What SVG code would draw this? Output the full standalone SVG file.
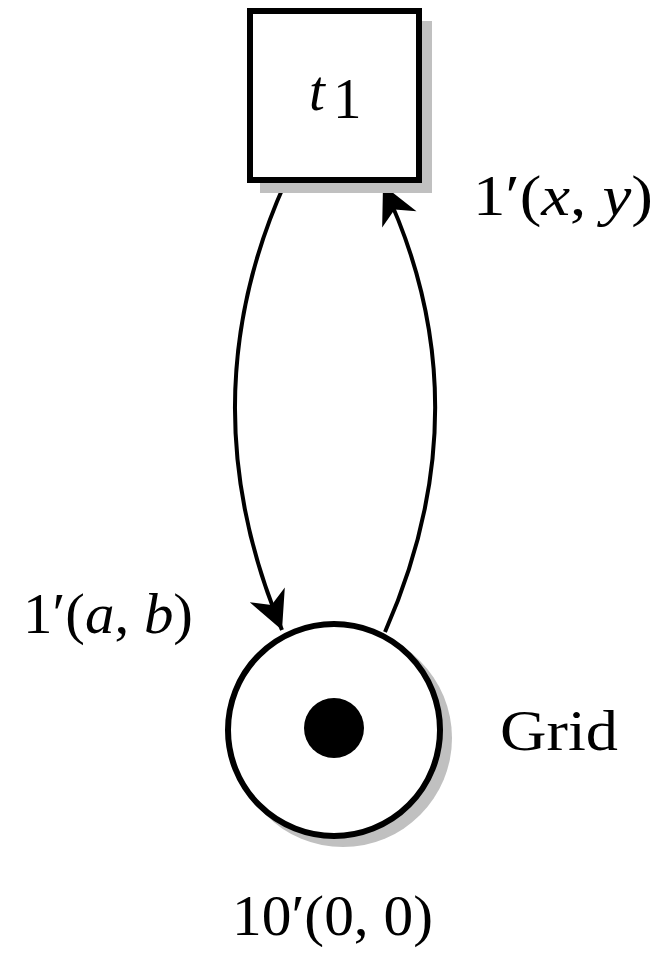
<svg xmlns="http://www.w3.org/2000/svg" width="661" height="955" viewBox="0 0 661 955">
<style>
.shadow{fill:#c0c0c0;stroke:none}
.node{fill:#fff;stroke:#000;stroke-width:6}
.arc{fill:none;stroke:#000;stroke-width:4}
.lbl{font-family:"Liberation Serif","DejaVu Serif",serif;font-size:57px;fill:#000}
.it{font-style:italic}
</style>
<defs>
<marker id="stealth" markerUnits="userSpaceOnUse" markerWidth="50" markerHeight="50" viewBox="-40 -25 50 50" refX="0" refY="0" orient="auto">
<path d="M0,0 L-38,-19 L-27,0 L-38,19 Z" fill="#000"/>
</marker>
</defs>
<rect width="661" height="955" fill="#fff"/>
<g id="connectors">
<path class="arc" d="M285,183 C219,330 219,480 282,630" marker-end="url(#stealth)"/>
<path class="arc" d="M385,632 C452,480 452,330 383,185" marker-end="url(#stealth)"/>
</g>
<g id="t1">
<rect class="shadow" x="260" y="21" width="172" height="172"/>
<rect class="node" x="250" y="11" width="169" height="169"/>
<text class="lbl it" x="309" y="110" font-size="56">t</text>
<text class="lbl" x="333" y="118" font-size="41">1</text>
</g>
<g id="grid">
<circle class="shadow" cx="343" cy="738" r="109"/>
<circle class="node" cx="334" cy="730" r="106"/>
<circle cx="334" cy="728" r="30" fill="#000"/>
</g>
<g id="labels">
<text class="lbl" x="473" y="215" textLength="180" lengthAdjust="spacingAndGlyphs">1′(<tspan class="it">x</tspan>, <tspan class="it">y</tspan>)</text>
<text class="lbl" x="23" y="633" textLength="170" lengthAdjust="spacingAndGlyphs">1′(<tspan class="it">a</tspan>, <tspan class="it">b</tspan>)</text>
<text class="lbl" x="500" y="750" textLength="118" lengthAdjust="spacingAndGlyphs">Grid</text>
<text class="lbl" x="232" y="935" textLength="201" lengthAdjust="spacingAndGlyphs">10′(0, 0)</text>
</g>
</svg>
